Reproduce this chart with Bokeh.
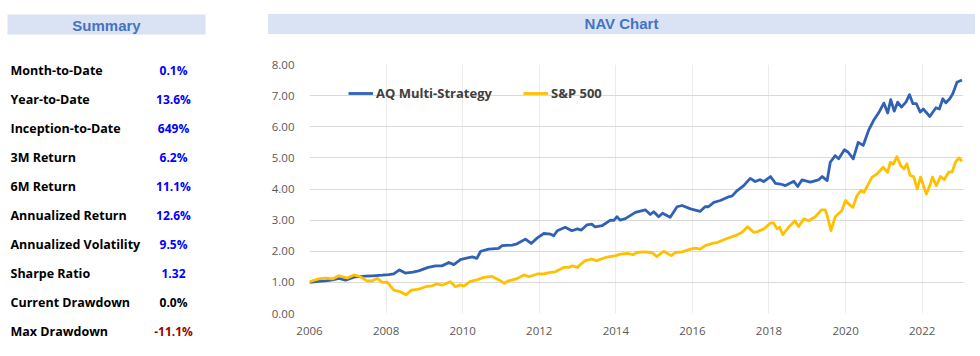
from bokeh.plotting import figure
from bokeh.layouts import row, column
from bokeh.models import Range1d, FixedTicker, NumeralTickFormatter, Legend, LegendItem, Div
from bokeh.core.properties import value
from bokeh.embed import file_html
from bokeh.resources import INLINE

# ---------------- data ----------------
summary_labels = ["Month-to-Date", "Year-to-Date", "Inception-to-Date", "3M Return", "6M Return",
                  "Annualized Return", "Annualized Volatility", "Sharpe Ratio", "Current Drawdown",
                  "Max Drawdown"]
summary_values = ["0.1%", "13.6%", "649%", "6.2%", "11.1%", "12.6%", "9.5%", "1.32", "0.0%", "-11.1%"]

aq_dates = [2006.00, 2006.24, 2006.42, 2006.60, 2006.77, 2006.94, 2007.20, 2007.45, 2007.64, 2007.90,
            2008.07, 2008.20, 2008.35, 2008.50, 2008.70, 2008.85, 2009.10, 2009.29, 2009.46, 2009.64,
            2009.77, 2009.94, 2010.10, 2010.25, 2010.37, 2010.47, 2010.68, 2010.94, 2011.03, 2011.29,
            2011.42, 2011.64, 2011.79, 2011.95, 2012.12, 2012.30, 2012.38, 2012.47, 2012.68, 2012.85,
            2013.00, 2013.10, 2013.25, 2013.37, 2013.46, 2013.64, 2013.86, 2013.95, 2014.03, 2014.11,
            2014.25, 2014.51, 2014.77, 2014.90, 2014.99, 2015.12, 2015.22, 2015.42, 2015.60, 2015.73,
            2015.95, 2016.20, 2016.33, 2016.42, 2016.56, 2016.73, 2016.95, 2017.04, 2017.17, 2017.34,
            2017.51, 2017.64, 2017.77, 2017.86, 2018.04, 2018.17, 2018.30, 2018.43, 2018.65, 2018.75,
            2018.86, 2019.08, 2019.29, 2019.39, 2019.52, 2019.60, 2019.73, 2019.82, 2019.97, 2020.07,
            2020.20, 2020.33, 2020.46, 2020.60, 2020.73, 2020.86, 2021.00, 2021.10, 2021.18, 2021.27,
            2021.36, 2021.46, 2021.58, 2021.67, 2021.76, 2021.85, 2021.95, 2022.03, 2022.20, 2022.36,
            2022.45, 2022.54, 2022.62, 2022.72, 2022.80, 2022.91, 2023.04]
aq_nav = [1.00, 1.03, 1.05, 1.08, 1.13, 1.07, 1.18, 1.20, 1.21, 1.23,
          1.25, 1.27, 1.40, 1.30, 1.33, 1.37, 1.48, 1.53, 1.53, 1.64,
          1.57, 1.73, 1.78, 1.82, 1.77, 2.00, 2.07, 2.09, 2.18, 2.20,
          2.24, 2.39, 2.25, 2.43, 2.57, 2.55, 2.50, 2.66, 2.77, 2.66,
          2.72, 2.68, 2.85, 2.87, 2.78, 2.82, 3.00, 2.99, 3.11, 3.00,
          3.05, 3.25, 3.33, 3.18, 3.27, 3.11, 3.22, 3.09, 3.43, 3.47,
          3.36, 3.28, 3.43, 3.43, 3.57, 3.63, 3.75, 3.78, 3.95, 4.11,
          4.34, 4.24, 4.30, 4.24, 4.40, 4.18, 4.16, 4.11, 4.25, 4.08,
          4.29, 4.22, 4.29, 4.40, 4.27, 4.86, 5.07, 4.97, 5.26, 5.18,
          4.97, 5.50, 5.40, 5.88, 6.20, 6.44, 6.76, 6.44, 6.87, 6.50,
          6.79, 6.63, 6.80, 7.03, 6.74, 6.74, 6.47, 6.57, 6.33, 6.61,
          6.57, 6.90, 6.77, 6.90, 7.06, 7.43, 7.50]

sp_dates = [2006.00, 2006.24, 2006.42, 2006.60, 2006.77, 2006.99, 2007.16, 2007.33, 2007.50, 2007.64,
            2007.77, 2007.90, 2008.03, 2008.20, 2008.37, 2008.52, 2008.66, 2008.85, 2009.03, 2009.20,
            2009.33, 2009.46, 2009.68, 2009.81, 2009.94, 2010.03, 2010.20, 2010.37, 2010.55, 2010.77,
            2010.95, 2011.09, 2011.20, 2011.42, 2011.60, 2011.73, 2011.95, 2012.12, 2012.29, 2012.42,
            2012.64, 2012.77, 2012.86, 2013.00, 2013.08, 2013.20, 2013.37, 2013.50, 2013.73, 2014.00,
            2014.12, 2014.30, 2014.46, 2014.55, 2014.72, 2014.94, 2015.07, 2015.25, 2015.45, 2015.55,
            2015.73, 2015.95, 2016.07, 2016.20, 2016.34, 2016.51, 2016.65, 2016.90, 2017.12, 2017.30,
            2017.44, 2017.60, 2017.70, 2017.87, 2018.04, 2018.12, 2018.21, 2018.28, 2018.36, 2018.51,
            2018.68, 2018.77, 2018.91, 2019.04, 2019.21, 2019.37, 2019.47, 2019.53, 2019.62, 2019.73,
            2019.90, 2020.00, 2020.08, 2020.19, 2020.30, 2020.40, 2020.48, 2020.69, 2020.82, 2020.98,
            2021.10, 2021.17, 2021.25, 2021.34, 2021.44, 2021.53, 2021.60, 2021.69, 2021.78, 2021.87,
            2021.96, 2022.11, 2022.20, 2022.27, 2022.37, 2022.48, 2022.58, 2022.69, 2022.78, 2022.87,
            2022.96, 2023.04]
sp_nav = [1.02, 1.11, 1.14, 1.11, 1.21, 1.14, 1.24, 1.18, 1.05, 1.05,
          1.13, 1.00, 1.01, 0.75, 0.70, 0.60, 0.75, 0.78, 0.86, 0.89,
          0.95, 0.91, 1.02, 0.86, 0.92, 0.88, 1.03, 1.08, 1.16, 1.19,
          1.08, 0.97, 1.05, 1.12, 1.24, 1.18, 1.27, 1.27, 1.32, 1.34,
          1.48, 1.48, 1.53, 1.48, 1.58, 1.70, 1.75, 1.70, 1.80, 1.86,
          1.91, 1.93, 1.89, 1.96, 1.98, 1.96, 1.83, 2.00, 1.86, 1.96,
          1.98, 2.07, 2.10, 2.07, 2.18, 2.25, 2.28, 2.41, 2.50, 2.61,
          2.79, 2.61, 2.63, 2.72, 2.91, 2.91, 2.72, 2.77, 2.53, 2.77,
          2.98, 2.79, 3.04, 2.98, 3.11, 3.33, 3.33, 3.10, 2.66, 3.11,
          3.30, 3.63, 3.52, 3.41, 3.79, 3.95, 3.89, 4.38, 4.48, 4.70,
          4.54, 4.86, 4.80, 5.04, 4.75, 4.65, 4.81, 4.43, 4.40, 4.00,
          4.38, 3.84, 4.11, 4.38, 4.11, 4.40, 4.30, 4.54, 4.54, 4.86,
          5.00, 4.89]

series_names = ["AQ Multi-Strategy", "S&P 500"]
x_ticks = [2006, 2008, 2010, 2012, 2014, 2016, 2018, 2020, 2022]
y_ticks = [0, 1, 2, 3, 4, 5, 6, 7, 8]

# ---------------- styles ----------------
HDR_FILL = "#dae3f3"
HDR_TEXT = "#4472c4"
BLUE_LINE = "#2f62b6"
GOLD_LINE = "#ffc000"
VAL_COLORS = ["#0000ff"] * 8 + ["#000000", "#a00000"]
FONT = "Open Sans"

# ---------------- summary panel ----------------
s = figure(width=260, height=356, x_range=Range1d(0, 260), y_range=Range1d(356, 0),
           output_backend="svg", toolbar_location=None, min_border=0)
s.axis.visible = False
s.grid.visible = False
s.outline_line_color = None
s.quad(left=7, right=205, top=14, bottom=34, fill_color=HDR_FILL, line_color=None)
s.text(x=[106], y=[24.5], text=["Summary"], text_align="center", text_baseline="middle",
       text_font=value("Liberation Sans"), text_font_style="bold", text_font_size="15px",
       text_color=HDR_TEXT)
row_y = [70 + 29.0 * i for i in range(len(summary_labels))]
s.text(x=[10] * len(summary_labels), y=row_y, text=summary_labels, text_baseline="middle",
       text_font=value(FONT), text_font_style="bold", text_font_size="12.5px", text_color="#000000")
s.text(x=[173] * len(summary_values), y=row_y, text=summary_values, text_align="center",
       text_baseline="middle", text_font=value(FONT), text_font_style="bold",
       text_font_size="12px", text_color=VAL_COLORS)

# ---------------- chart header ----------------
h = Div(text="NAV Chart", width=707, height=20, margin=(14, 5, 16, 8),
        styles={"background-color": HDR_FILL, "color": HDR_TEXT,
                "font-family": "'Liberation Sans', Arial, sans-serif", "font-weight": "bold",
                "font-size": "15px", "text-align": "center", "line-height": "20px"})

# ---------------- chart ----------------
p = figure(width=720, height=306, x_range=Range1d(2006, 2023.08), y_range=Range1d(0, 8),
           output_backend="svg", toolbar_location=None,
           min_border_left=49, min_border_right=17, min_border_top=14, min_border_bottom=43)
p.outline_line_color = None
p.background_fill_color = "white"

p.yaxis.ticker = FixedTicker(ticks=y_ticks)
p.yaxis.formatter = NumeralTickFormatter(format="0.00")
p.xaxis.ticker = FixedTicker(ticks=x_ticks)
p.xaxis.formatter = NumeralTickFormatter(format="0")
for ax in (p.xaxis[0], p.yaxis[0]):
    ax.axis_line_color = None
    ax.major_tick_line_color = None
    ax.minor_tick_line_color = None
    ax.major_label_text_font = FONT
    ax.major_label_text_font_size = "11.5px"
    ax.major_label_text_color = "#595959"
p.yaxis.major_label_standoff = 9
p.xaxis.major_label_standoff = 7
p.ygrid.grid_line_color = "#d9d9d9"
p.ygrid.grid_line_width = 1.2
p.xgrid.grid_line_color = "#ececec"

r_aq = p.line(aq_dates, aq_nav, line_color=BLUE_LINE, line_width=2.8, line_join="round")
r_sp = p.line(sp_dates, sp_nav, line_color=GOLD_LINE, line_width=2.8, line_join="round")

for name, rend, loc in ((series_names[0], r_aq, (39, 211)), (series_names[1], r_sp, (214, 211))):
    lg = Legend(items=[LegendItem(label=name, renderers=[rend])], location=loc,
                orientation="horizontal", padding=0, margin=0, spacing=0,
                border_line_color=None, background_fill_alpha=0,
                glyph_width=25, glyph_height=14, label_standoff=3, label_height=14,
                label_text_font=FONT, label_text_font_style="bold",
                label_text_font_size="13px", label_text_color="#404040")
    p.add_layout(lg)

layout = row(s, column(h, p))
open("out.html", "w").write(file_html(layout, INLINE))
